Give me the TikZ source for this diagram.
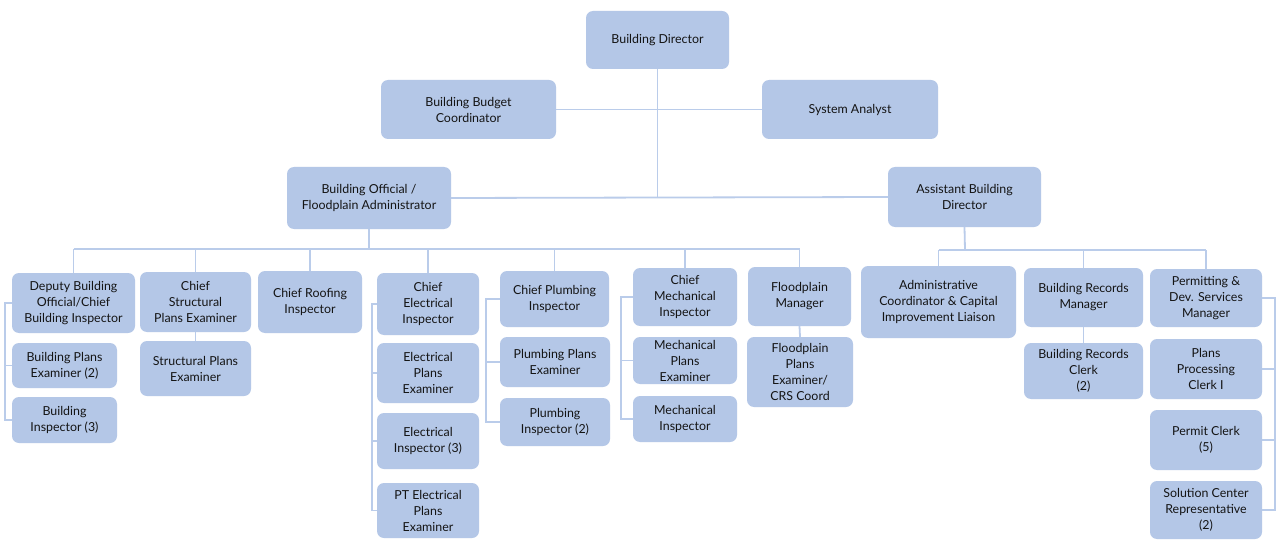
\documentclass[tikz,border=0pt]{standalone}
\usepackage{fontspec}
\setmainfont{Lato}
\usetikzlibrary{positioning}
\definecolor{boxc}{RGB}{180,199,231}
\definecolor{linec}{RGB}{186,204,234}
\definecolor{textc}{RGB}{20,20,20}

\begin{document}
\begin{tikzpicture}[x=1pt, y=-1pt,
  unit/.style={fill=boxc, rounded corners=7pt, align=center, inner xsep=2pt, inner ysep=0pt,
    text=textc, font=\fontsize{12.4}{16}\selectfont},
  link/.style={draw=linec, line width=1.8pt}]

\newcommand{\orgbox}[6]{%
  \node[unit, minimum width={#4-#2}, minimum height={#5-#3}] (#1) at ({(#2+#4)/2},{(#3+#5)/2}) {#6};
}

\useasboundingbox[fill=white] (0,0) rectangle (1276,540);

% top levels (pixel coords, y down)
\orgbox{dir}{586}{11}{729}{69}{Building Director}
\orgbox{bud}{381}{80}{556}{139}{Building Budget\\Coordinator}
\orgbox{sys}{762}{80}{938}{139}{System Analyst}
\orgbox{ofc}{287}{167}{451}{229}{Building Official /\\Floodplain Administrator}
\orgbox{abd}{888}{167}{1041}{227}{Assistant Building\\Director}

% left branch
\orgbox{dep}{12}{273}{135}{333}{Deputy Building\\Official/Chief\\Building Inspector}
\orgbox{bpe}{12}{343}{117}{388}{Building Plans\\Examiner (2)}
\orgbox{bin}{12}{397}{117}{443}{Building\\Inspector (3)}
\orgbox{css}{140}{272}{251}{332}{Chief\\Structural\\Plans Examiner}
\orgbox{sps}{140}{341}{251}{396}{Structural Plans\\Examiner}
\orgbox{roof}{258}{271}{362}{333}{Chief Roofing\\Inspector}
\orgbox{cel}{377}{273}{479}{335}{Chief\\Electrical\\Inspector}
\orgbox{epe}{377}{343}{479}{403}{Electrical\\Plans\\Examiner}
\orgbox{ein}{377}{413}{479}{469}{Electrical\\Inspector (3)}
\orgbox{pte}{377}{483}{479}{538}{PT Electrical\\Plans\\Examiner}
\orgbox{cpl}{500}{271}{609}{327}{Chief Plumbing\\Inspector}
\orgbox{ppe}{500}{337}{610}{387}{Plumbing Plans\\Examiner}
\orgbox{pin}{500}{398}{610}{446}{Plumbing\\Inspector (2)}
\orgbox{cme}{633}{268}{737}{326}{Chief\\Mechanical\\Inspector}
\orgbox{mpe}{633}{337}{737}{384}{Mechanical\\Plans\\Examiner}
\orgbox{mei}{633}{396}{737}{442}{Mechanical\\Inspector}
\orgbox{flm}{748}{267}{851}{326}{Floodplain\\Manager}
\orgbox{fpe}{747}{337}{853}{407}{Floodplain\\Plans\\Examiner/\\CRS Coord}

% right branch
\orgbox{adm}{861}{266}{1016}{338}{Administrative\\Coordinator \& Capital\\Improvement Liaison}
\orgbox{brm}{1024}{268}{1143}{327}{Building Records\\Manager}
\orgbox{brc}{1024}{343}{1143}{399}{Building Records\\Clerk\\(2)}
\orgbox{pdm}{1150}{269}{1262}{327}{Permitting \&\\Dev. Services\\Manager}
\orgbox{ppc}{1150}{339}{1262}{399}{Plans\\Processing\\Clerk I}
\orgbox{pcl}{1150}{410}{1262}{470}{Permit Clerk\\(5)}
\orgbox{scr}{1150}{481}{1262}{539}{Solution Center\\Representative\\(2)}

% bus lines and bracket columns
\coordinate (lbus) at (369,249);
\coordinate (rbus) at (965,250);
\coordinate (depbar) at (5,0);
\coordinate (celbar) at (372,0);
\coordinate (cplbar) at (486,0);
\coordinate (cmebar) at (621,0);
\coordinate (pdmbar) at (1275,0);

\draw[link] (dir.south) -- (dir.south |- ofc.east);
\draw[link] (bud.east) -- (sys.west);
\draw[link] (ofc.east) -- (abd.west);

\draw[link] (ofc.south) -- (lbus);
\draw[link] (dep.north |- lbus) -- (flm.north |- lbus);
\foreach \n in {dep,css,roof,cel,cpl,cme,flm}
  \draw[link] (\n.north) -- (\n.north |- lbus);

\draw[link] (abd.south) -- (rbus);
\draw[link] (adm.north |- rbus) -- (pdm.north |- rbus);
\foreach \n in {adm,brm,pdm}
  \draw[link] (\n.north) -- (\n.north |- rbus);

\draw[link] (css.south) -- (sps.north);
\draw[link] (flm.south) -- (fpe.north);
\draw[link] (brm.south) -- (brc.north);

% brackets
\draw[link] (dep.west) -- (dep.west -| depbar) |- (bin.west);
\draw[link] (bpe.west) -- (bpe.west -| depbar);
\draw[link] (cel.west) -- (cel.west -| celbar) |- (pte.west);
\foreach \n in {epe,ein}
  \draw[link] (\n.west) -- (\n.west -| celbar);
\draw[link] (cpl.west) -- (cpl.west -| cplbar) |- (pin.west);
\draw[link] (ppe.west) -- (ppe.west -| cplbar);
\draw[link] (cme.west) -- (cme.west -| cmebar) |- (mei.west);
\draw[link] (mpe.west) -- (mpe.west -| cmebar);
\draw[link] (pdm.east) -- (pdm.east -| pdmbar) |- (scr.east);
\foreach \n in {ppc,pcl}
  \draw[link] (\n.east) -- (\n.east -| pdmbar);
\end{tikzpicture}
\end{document}
